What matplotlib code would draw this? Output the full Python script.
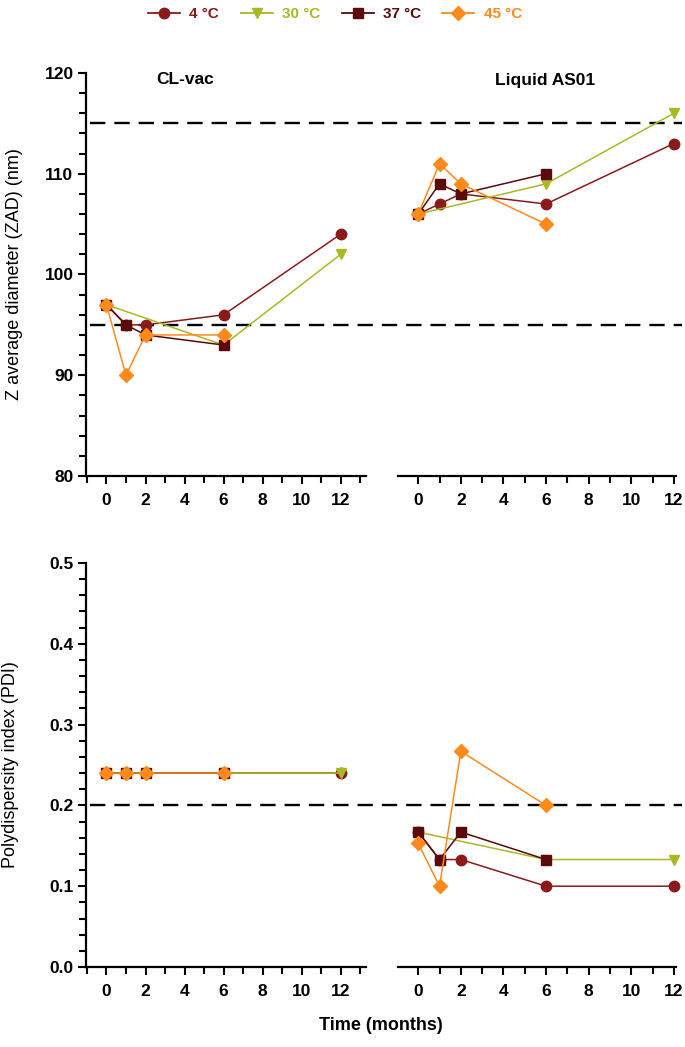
import matplotlib
matplotlib.use("Agg")
import matplotlib.pyplot as plt
from matplotlib.ticker import MultipleLocator, FormatStrFormatter
from matplotlib.transforms import blended_transform_factory

plt.rcParams['font.family'] = ['Liberation Sans', 'DejaVu Sans']

# ---- data ----
series_names = ["4 °C", "30 °C", "37 °C", "45 °C"]
colors = ["#8b1a1a", "#a9b923", "#5a0a0a", "#ff8a1c"]
markers = ["o", "v", "s", "D"]

# Z average diameter, CL-vac
zad_clvac_x = [[0, 1, 2, 6, 12], [0, 6, 12], [0, 1, 2, 6], [0, 1, 2, 6]]
zad_clvac_y = [[97, 95, 95, 96, 104], [97, 93, 102], [97, 95, 94, 93], [97, 90, 94, 94]]
# Z average diameter, Liquid AS01
zad_liq_x = [[0, 1, 2, 6, 12], [0, 6, 12], [0, 1, 2, 6], [0, 1, 2, 6]]
zad_liq_y = [[106, 107, 108, 107, 113], [106, 109, 116], [106, 109, 108, 110], [106, 111, 109, 105]]
# PDI, CL-vac
pdi_clvac_x = [[0, 1, 2, 6, 12], [0, 6, 12], [0, 1, 2, 6], [0, 1, 2, 6]]
pdi_clvac_y = [[0.24, 0.24, 0.24, 0.24, 0.24], [0.24, 0.24, 0.24], [0.24, 0.24, 0.24, 0.24], [0.24, 0.24, 0.24, 0.24]]
# PDI, Liquid AS01
pdi_liq_x = [[0, 1, 2, 6, 12], [0, 6, 12], [0, 1, 2, 6], [0, 1, 2, 6]]
pdi_liq_y = [[0.167, 0.133, 0.133, 0.1, 0.1], [0.167, 0.133, 0.133], [0.167, 0.133, 0.167, 0.133], [0.153, 0.1, 0.267, 0.2]]

zad_limits = [115, 95]
pdi_limits = [0.2]
panel_titles = ["CL-vac", "Liquid AS01"]
x_ticks = [0, 2, 4, 6, 8, 10, 12]

W, H = 685, 1047
fig = plt.figure(figsize=(W / 100, H / 100), dpi=100)

def fx(px):
    return px / W

def fy(py):
    return 1 - py / H

ax_tl = fig.add_axes([fx(86), fy(476), fx(366) - fx(86), fy(73) - fy(476)])
ax_tr = fig.add_axes([fx(398), fy(476), fx(676) - fx(398), fy(73) - fy(476)])
ax_bl = fig.add_axes([fx(86), fy(967), fx(366) - fx(86), fy(563) - fy(967)])
ax_br = fig.add_axes([fx(398), fy(967), fx(676) - fx(398), fy(563) - fy(967)])
for ax in (ax_tl, ax_tr, ax_bl, ax_br):
    ax.patch.set_visible(False)

TICK_FS = 12.5

def style(ax, left, xlim):
    ax.set_xlim(*xlim)
    for s in ['top', 'right']:
        ax.spines[s].set_visible(False)
    ax.spines['bottom'].set_linewidth(1.6)
    ax.spines['left'].set_linewidth(1.6)
    ax.set_xticks(x_ticks)
    ax.xaxis.set_minor_locator(MultipleLocator(1))
    ax.tick_params(axis='x', which='both', direction='out', width=1.5, pad=6)
    ax.tick_params(axis='x', which='major', length=6)
    ax.tick_params(axis='x', which='minor', length=5)
    ax.tick_params(axis='y', which='both', direction='out', width=1.5, pad=3)
    ax.tick_params(axis='y', which='major', length=6)
    ax.tick_params(axis='y', which='minor', length=5)
    for lab in ax.get_xticklabels() + ax.get_yticklabels():
        lab.set_fontsize(TICK_FS)
        lab.set_fontweight('bold')
    if not left:
        ax.spines['left'].set_visible(False)
        ax.tick_params(axis='y', which='both', left=False, labelleft=False)

def draw(ax, xs, ys):
    for i in range(len(series_names)):
        ax.plot(xs[i], ys[i], color=colors[i], marker=markers[i], markersize=7.5,
                markeredgecolor=colors[i], linewidth=1.1, clip_on=False, zorder=3 + i)

for ax in (ax_tl, ax_tr):
    ax.set_ylim(80, 120)
    ax.yaxis.set_major_locator(MultipleLocator(10))
    ax.yaxis.set_minor_locator(MultipleLocator(2))
for ax in (ax_bl, ax_br):
    ax.set_ylim(0, 0.5)
    ax.yaxis.set_major_locator(MultipleLocator(0.1))
    ax.yaxis.set_minor_locator(MultipleLocator(0.02))
    ax.yaxis.set_major_formatter(FormatStrFormatter('%.1f'))

draw(ax_tl, zad_clvac_x, zad_clvac_y)
draw(ax_tr, zad_liq_x, zad_liq_y)
draw(ax_bl, pdi_clvac_x, pdi_clvac_y)
draw(ax_br, pdi_liq_x, pdi_liq_y)

style(ax_tl, True, (-1.05, 13.3))
style(ax_tr, False, (-0.95, 12.1))
style(ax_bl, True, (-1.05, 13.3))
style(ax_br, False, (-0.95, 12.1))

# dashed reference lines spanning both panels
for ax, lims in ((ax_tl, zad_limits), (ax_bl, pdi_limits)):
    tr = blended_transform_factory(fig.transFigure, ax.transData)
    for v in lims:
        ax.plot([fx(90), fx(682)], [v, v], transform=tr, color='black', linewidth=1.7,
                linestyle=(0, (6.5, 3.8)), clip_on=False, zorder=2)

# panel titles
fig.text(fx(185), fy(80), panel_titles[0], fontsize=12.5, fontweight='bold', ha='center', va='center')
fig.text(fx(545), fy(80), panel_titles[1], fontsize=12.5, fontweight='bold', ha='center', va='center')

ax_tl.set_ylabel("Z average diameter (ZAD) (nm)", fontsize=13)
ax_tl.yaxis.set_label_coords(-0.225, 0.5)
ax_bl.set_ylabel("Polydispersity index (PDI)", fontsize=13)
ax_bl.yaxis.set_label_coords(-0.238, 0.5)

fig.text(fx(381), fy(1025), "Time (months)", fontsize=13, fontweight='bold', ha='center', va='center')

# legend
handles = [plt.Line2D([], [], color=colors[i], marker=markers[i], markersize=7.5,
                      markeredgecolor=colors[i], linewidth=1.3) for i in range(4)]
leg = fig.legend(handles, series_names, loc='center', bbox_to_anchor=(fx(335), fy(14)),
                 ncol=4, frameon=False, handlelength=2.1, columnspacing=1.4, handletextpad=0.6,
                 prop=dict(size=11, weight='bold'))
for t, c in zip(leg.get_texts(), colors):
    t.set_color(c)

fig.savefig("out.png", dpi=100)
